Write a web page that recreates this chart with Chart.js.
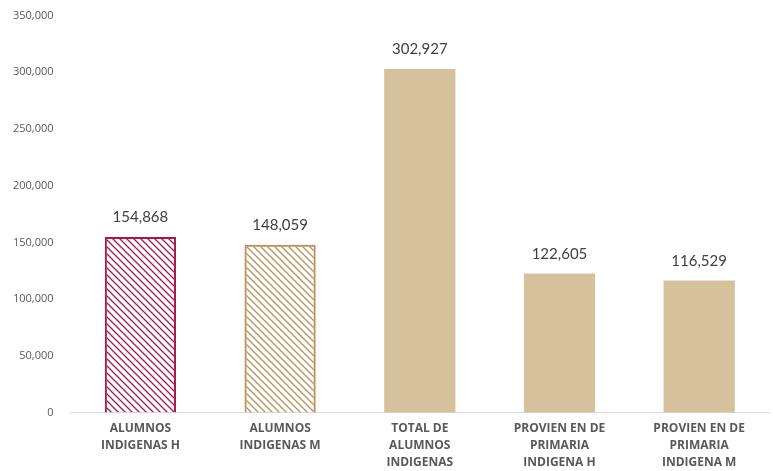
<!DOCTYPE html>
<html>
<head>
<meta charset="utf-8">
<script src="https://cdn.jsdelivr.net/npm/chart.js@4"></script>
<style>
  html, body { margin: 0; padding: 0; background: #fff; }
  #wrap { width: 773px; height: 471px; }
</style>
</head>
<body>
<div id="wrap"><canvas id="chart"></canvas></div>
<script>
const categories = [
  ["ALUMNOS", "INDIGENAS H"],
  ["ALUMNOS", "INDIGENAS M"],
  ["TOTAL DE", "ALUMNOS", "INDIGENAS"],
  ["PROVIEN EN DE", "PRIMARIA", "INDIGENA H"],
  ["PROVIEN EN DE", "PRIMARIA", "INDIGENA M"]
];
const values = [154868, 148059, 302927, 122605, 116529];
const yMax = 350000;
const yStep = 50000;

function stripes(color) {
  const c = document.createElement("canvas");
  c.width = 7; c.height = 7;
  const g = c.getContext("2d");
  g.strokeStyle = color;
  g.lineWidth = 1.3;
  g.beginPath();
  g.moveTo(-1, -1); g.lineTo(8, 8);
  g.moveTo(-1, 6); g.lineTo(1, 8);
  g.moveTo(6, -1); g.lineTo(8, 1);
  g.stroke();
  return g.createPattern(c, "repeat");
}

const red = "#A8194A";
const tan = "#B8925A";
const tanFill = "#D5C19B";

const fmt = v => v.toLocaleString("en-US");

const valueLabels = {
  id: "valueLabels",
  afterDatasetsDraw(chart) {
    const ctx = chart.ctx;
    const meta = chart.getDatasetMeta(0);
    ctx.save();
    ctx.font = "15px Lato, 'Open Sans', sans-serif";
    ctx.fillStyle = "#404040";
    ctx.textAlign = "center";
    ctx.textBaseline = "bottom";
    meta.data.forEach((bar, i) => {
      ctx.fillText(fmt(values[i]), bar.x, bar.y - 12);
    });
    ctx.restore();
  }
};

new Chart(document.getElementById("chart").getContext("2d"), {
  type: "bar",
  data: {
    labels: categories,
    datasets: [{
      data: values,
      backgroundColor: [stripes(red), stripes(tan), tanFill, tanFill, tanFill],
      borderColor: [red, tan, tanFill, tanFill, tanFill],
      borderWidth: [2, 2, 0, 0, 0],
      barPercentage: 0.51,
      categoryPercentage: 1
    }]
  },
  options: {
    responsive: true,
    maintainAspectRatio: false,
    animation: false,
    layout: { padding: { top: 10, right: 4, left: 4, bottom: 0 } },
    plugins: { legend: { display: false }, tooltip: { enabled: false } },
    scales: {
      x: {
        grid: { display: false },
        border: { display: true, color: "#D9D9D9", width: 1 },
        ticks: {
          color: "#595959",
          font: { family: "'Open Sans', sans-serif", size: 12, weight: "bold", lineHeight: 1.4 },
          maxRotation: 0,
          autoSkip: false,
          padding: 0
        }
      },
      y: {
        min: 0,
        max: yMax,
        grid: { display: false },
        border: { display: false },
        ticks: {
          stepSize: yStep,
          color: "#595959",
          font: { family: "'Open Sans', sans-serif", size: 11 },
          padding: 9,
          callback: v => fmt(v)
        }
      }
    }
  },
  plugins: [valueLabels]
});
</script>
</body>
</html>
